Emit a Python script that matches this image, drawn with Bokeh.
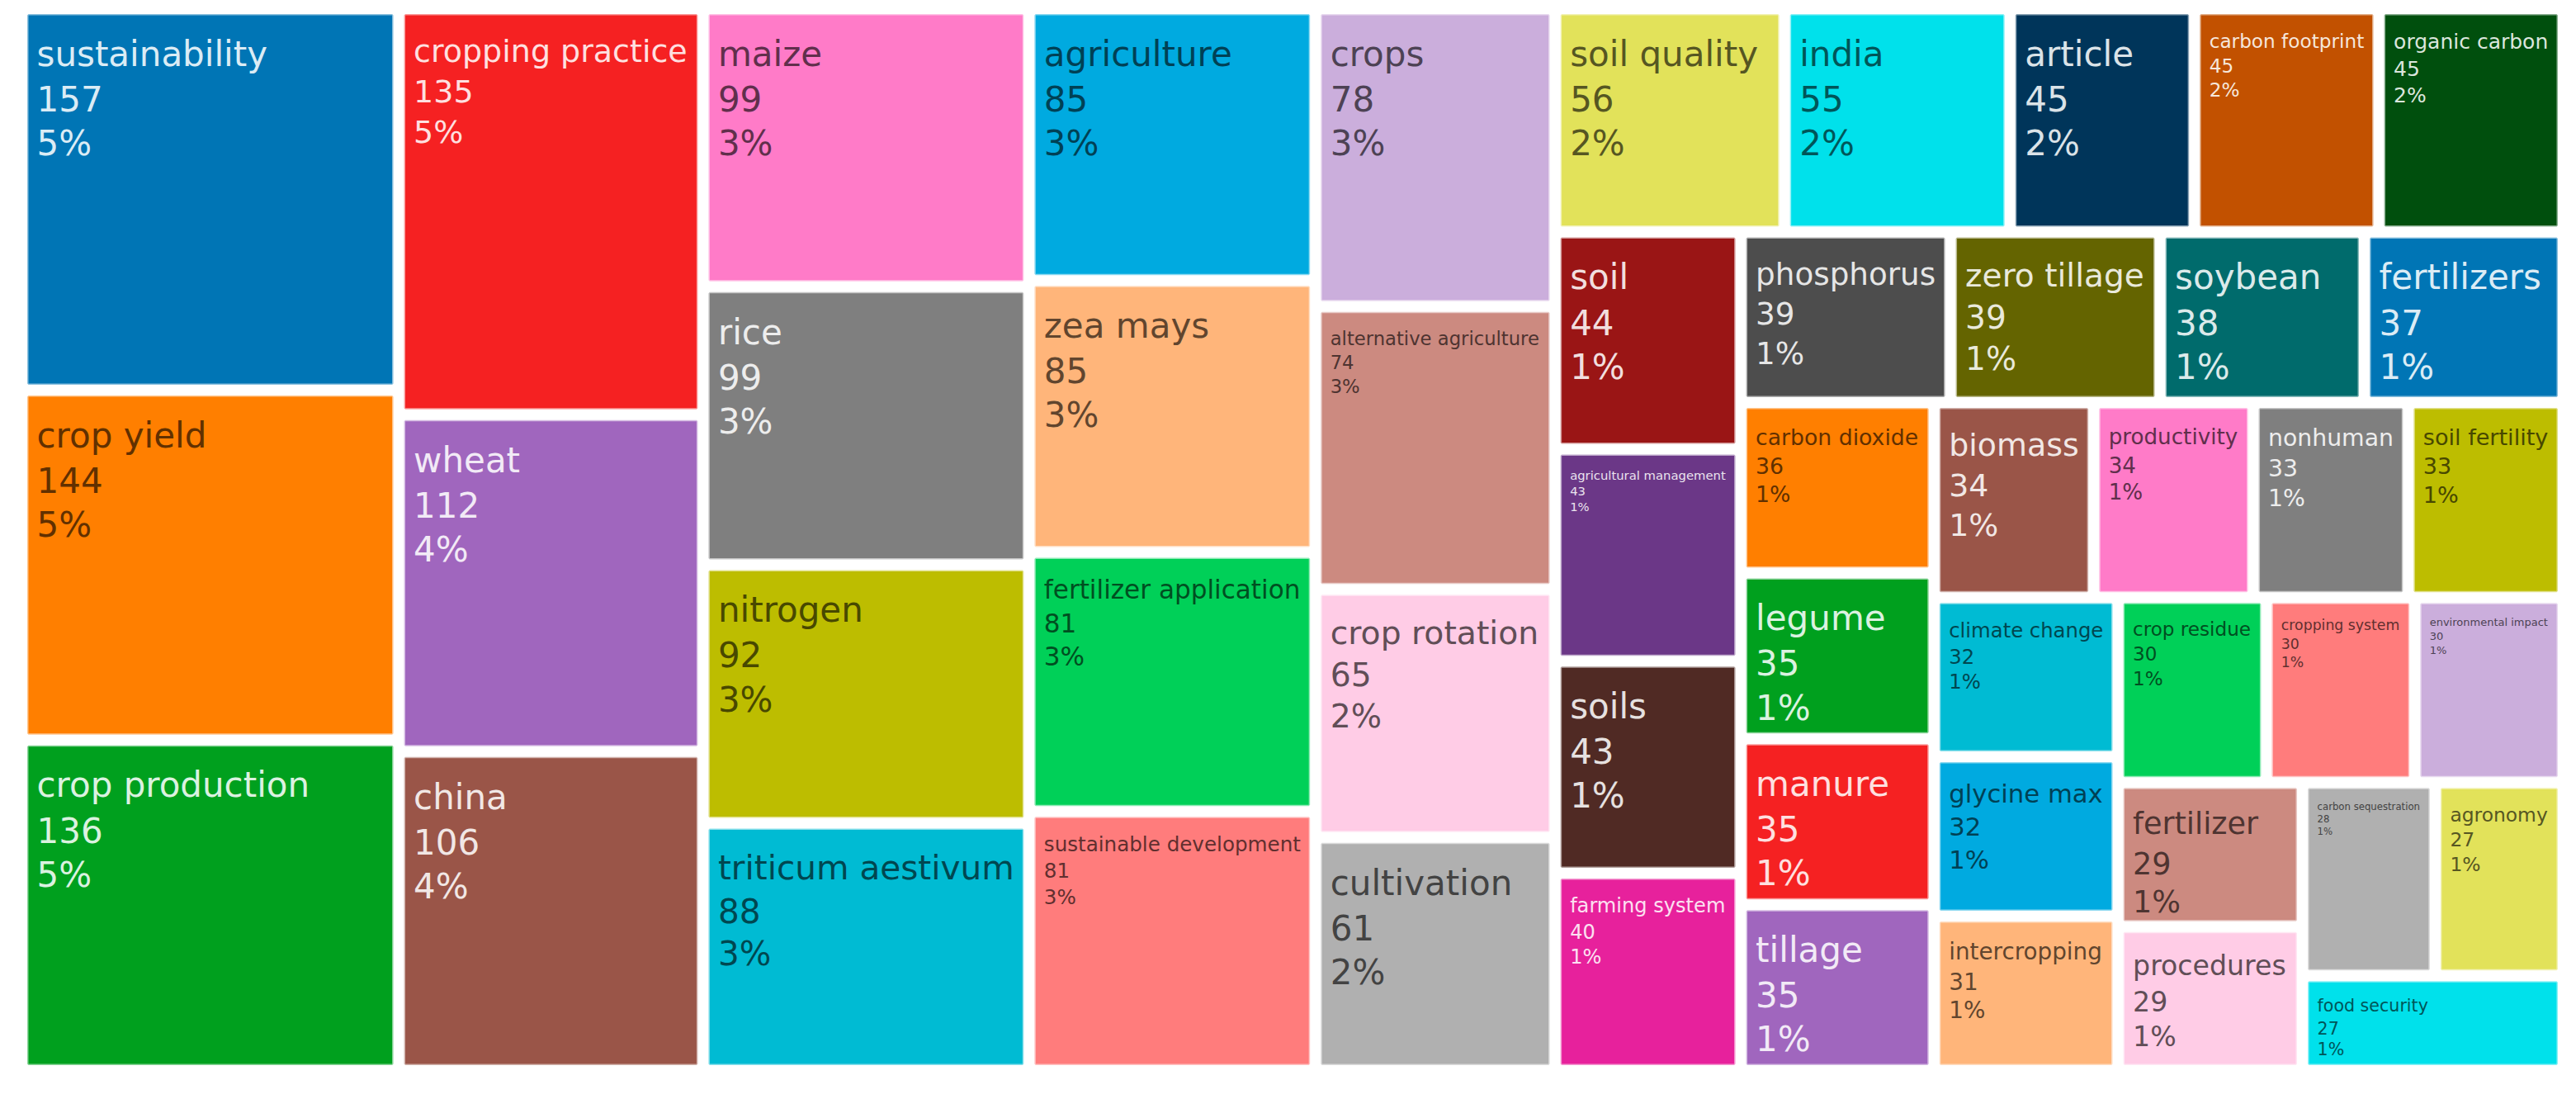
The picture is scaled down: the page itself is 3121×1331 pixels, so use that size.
import math
from bokeh.plotting import figure
from bokeh.models import ColumnDataSource, Range1d
from bokeh.embed import file_html
from bokeh.resources import INLINE
from bokeh.core.properties import value

# ---------------- data ----------------
keywords = [
    "sustainability", "crop yield", "crop production", "cropping practice", "wheat", "china",
    "maize", "rice", "nitrogen", "triticum aestivum", "agriculture", "zea mays",
    "fertilizer application", "sustainable development", "crops", "alternative agriculture",
    "crop rotation", "cultivation", "soil quality", "india", "article", "carbon footprint",
    "organic carbon", "soil", "agricultural management", "soils", "farming system",
    "phosphorus", "zero tillage", "soybean", "fertilizers", "carbon dioxide", "legume",
    "manure", "tillage", "biomass", "productivity", "nonhuman", "soil fertility",
    "climate change", "glycine max", "intercropping", "crop residue", "cropping system",
    "environmental impact", "fertilizer", "procedures", "carbon sequestration", "agronomy",
    "food security",
]
counts = [
    157, 144, 136, 135, 112, 106,
    99, 99, 92, 88, 85, 85,
    81, 81, 78, 74,
    65, 61, 56, 55, 45, 45,
    45, 44, 43, 43, 40,
    39, 39, 38, 37, 36, 35,
    35, 35, 34, 34, 33, 33,
    32, 32, 31, 30, 30,
    30, 29, 29, 28, 27,
    27,
]
palette = [
    "#0075B5", "#FF7F00", "#00A01E", "#F52122", "#A066BE", "#9A5548",
    "#FF7BC8", "#7F7F7F", "#BDBD00", "#00BBD3", "#00AAE0", "#FFB57A",
    "#00D058", "#FF7C7C", "#CBAEDC", "#CC8A80", "#FFCCE6", "#B0B0B0",
    "#E2E25A", "#00E1EB", "#00355A", "#C25100", "#004F0D", "#9A1515",
    "#6B3787", "#502A24", "#E7219C", "#4D4D4D", "#646400", "#006B6C",
]

# ---------------- layout constants ----------------
W, H = 3105, 1312
TM_X, TM_Y, TM_W, TM_H = 26.0, 10.0, 3079.0, 1286.0
HALF_GAP = 8.0
FONT = "DejaVu Sans"
MAX_FS = 42.0
PAD_X = 10.0
PAD_TOP = 11.0
ASC = 0.85
LINE_H = 1.29

# ---------------- squarified treemap ----------------
def layout(sizes, x, y, dx, dy):
    rects = []
    if dx >= dy:
        width = sum(sizes) / dy
        for s in sizes:
            h = s / width
            rects.append((x, y, width, h))
            y += h
    else:
        height = sum(sizes) / dx
        for s in sizes:
            w = s / height
            rects.append((x, y, w, height))
            x += w
    return rects

def leftover(sizes, x, y, dx, dy):
    if dx >= dy:
        width = sum(sizes) / dy
        return x + width, y, dx - width, dy
    height = sum(sizes) / dx
    return x, y + height, dx, dy - height

def worst_ratio(sizes, x, y, dx, dy):
    return max(max(w / h, h / w) for (_, _, w, h) in layout(sizes, x, y, dx, dy))

def squarify(sizes, x, y, dx, dy):
    rects = []
    while sizes:
        if len(sizes) == 1:
            rects += layout(sizes, x, y, dx, dy)
            break
        i = 1
        while i < len(sizes) and worst_ratio(sizes[:i], x, y, dx, dy) >= worst_ratio(sizes[:i + 1], x, y, dx, dy):
            i += 1
        cur, sizes = sizes[:i], sizes[i:]
        rects += layout(cur, x, y, dx, dy)
        x, y, dx, dy = leftover(cur, x, y, dx, dy)
    return rects

total = float(sum(counts))
areas = [c * TM_W * TM_H / total for c in counts]
rects = squarify(areas, TM_X, TM_Y, TM_W, TM_H)

# ---------------- styling helpers ----------------
CW = {" ": 0.318, "a": 0.613, "b": 0.635, "c": 0.550, "d": 0.635, "e": 0.615, "f": 0.352,
      "g": 0.635, "h": 0.634, "i": 0.278, "j": 0.278, "k": 0.579, "l": 0.278, "m": 0.974,
      "n": 0.634, "o": 0.612, "p": 0.635, "q": 0.635, "r": 0.411, "s": 0.521, "t": 0.392,
      "u": 0.634, "v": 0.592, "w": 0.818, "x": 0.592, "y": 0.592, "z": 0.525, "%": 0.950}

def text_em(s):
    return sum(CW.get(ch, 0.636) for ch in s)

def hex_rgb(h):
    h = h.lstrip("#")
    return tuple(int(h[i:i + 2], 16) for i in (0, 2, 4))

def rel_lum(h):
    def lin(c):
        c = c / 255.0
        return c / 12.92 if c <= 0.03928 else ((c + 0.055) / 1.055) ** 2.4
    r, g, b = hex_rgb(h)
    return 0.2126 * lin(r) + 0.7152 * lin(g) + 0.0722 * lin(b)

def mix(h, other, t):
    r, g, b = hex_rgb(h)
    o = hex_rgb(other)
    return "#%02x%02x%02x" % tuple(int(round(c + (oc - c) * t)) for c, oc in zip((r, g, b), o))

# ---------------- build sources ----------------
left, right, top, bottom, fill = [], [], [], [], []
tx, ty, tt, tfs, tcol = [], [], [], [], []
for i, (kw, c, (x, y, w, h)) in enumerate(zip(keywords, counts, rects)):
    col = palette[i % len(palette)]
    l, r = x + HALF_GAP, x + w - HALF_GAP
    t, b = y + HALF_GAP, y + h - HALF_GAP
    left.append(l); right.append(r); top.append(t); bottom.append(b); fill.append(col)
    pct = "%d%%" % int(round(100.0 * c / total))
    lines = [kw, str(c), pct]
    cw, ch = r - l, b - t
    fs = min(MAX_FS,
             (cw - 2 * PAD_X) / max(text_em(s) for s in lines),
             (ch - 2 * PAD_TOP) / (ASC + 2 * LINE_H + 0.3))
    tcolor = mix(col, "#000000", 0.62) if rel_lum(col) > 0.3 else mix(col, "#ffffff", 0.86)
    for k, s in enumerate(lines):
        tx.append(l + PAD_X)
        ty.append(t + PAD_TOP + ASC * fs + k * LINE_H * fs)
        tt.append(s)
        tfs.append("%.1fpx" % fs)
        tcol.append(tcolor)

cells = ColumnDataSource(dict(left=left, right=right, top=top, bottom=bottom, fill=fill))
labels = ColumnDataSource(dict(x=tx, y=ty, text=tt, fs=tfs, color=tcol))

p = figure(width=W, height=H, output_backend="svg", toolbar_location=None,
           x_range=Range1d(0, W), y_range=Range1d(H, 0), min_border=0)
p.axis.visible = False
p.grid.visible = False
p.outline_line_color = None
p.background_fill_color = "white"
p.border_fill_color = "white"

p.quad(left="left", right="right", top="top", bottom="bottom", source=cells,
       fill_color="fill", line_color="fill", line_alpha=0.45, line_width=3)
p.text(x="x", y="y", text="text", source=labels, text_font=value(FONT),
       text_font_size="fs", text_color="color", text_baseline="alphabetic", text_align="left")

open("out.html", "w").write(file_html(p, INLINE))
